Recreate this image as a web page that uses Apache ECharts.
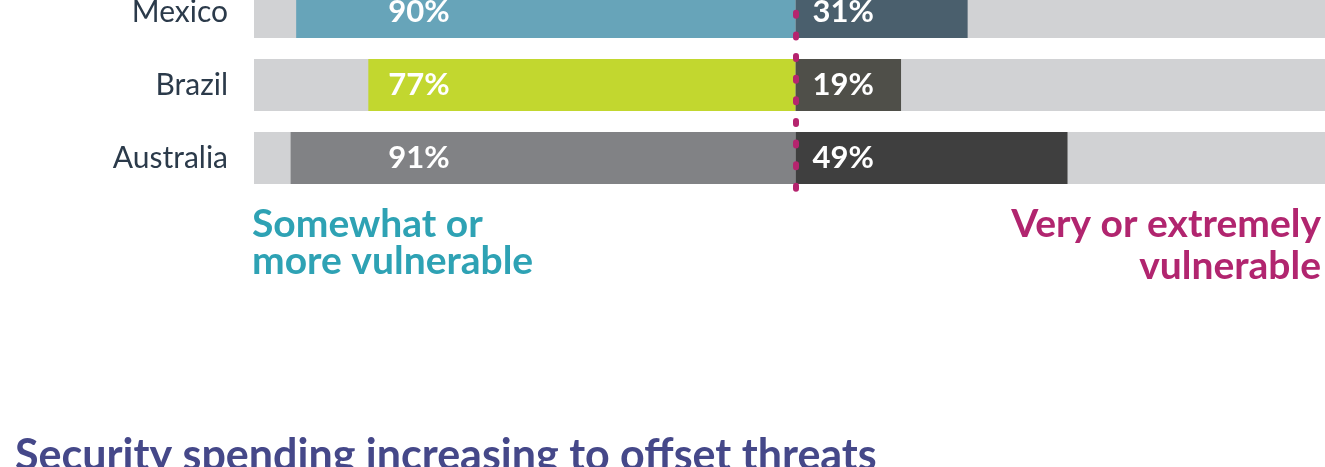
<!DOCTYPE html>
<html>
<head>
<meta charset="utf-8">
<script src="https://cdn.jsdelivr.net/npm/echarts@6/dist/echarts.min.js"></script>
<style>
  html, body { margin: 0; padding: 0; background: #fff; }
  #chart { width: 1325px; height: 467px; }
</style>
</head>
<body>
<div id="chart"></div>
<script>
// countries, top to bottom
const countries = ["Mexico", "Brazil", "Australia"];
// share saying somewhat or more vulnerable (left side)
const somewhatVulnerable = [90, 77, 91];
// share saying very or extremely vulnerable (right side)
const veryVulnerable = [31, 19, 49];

const leftColors = ["#67a4b9", "#c2d72f", "#818285"];
const rightColors = ["#4a5f6d", "#4f4f49", "#3f3f3f"];

const chart = echarts.init(document.getElementById("chart"));

const option = {
  animation: false,
  grid: {
    left: 254,
    right: 0,
    top: -24.5,
    height: 219,
    outerBoundsMode: "none",
  },
  xAxis: {
    type: "value",
    min: -97.6,
    max: 95.4,
    show: false,
  },
  yAxis: {
    type: "category",
    data: countries,
    inverse: true,
    axisLine: { show: false },
    axisTick: { show: false },
    splitLine: { show: false },
    axisLabel: {
      margin: 26,
      color: "#2b3a4a",
      fontFamily: "Lato",
      fontWeight: "normal",
      fontSize: 30,
    },
  },
  series: [
    {
      name: "Somewhat or more vulnerable",
      type: "bar",
      barWidth: 52,
      barGap: "-100%",
      showBackground: true,
      backgroundStyle: { color: "#d1d2d4" },
      data: somewhatVulnerable.map((v, i) => ({
        value: -v,
        itemStyle: { color: leftColors[i] },
      })),
      label: {
        show: true,
        position: "insideRight",
        distance: 346,
        color: "#fff",
        fontFamily: "Lato",
        fontWeight: "bold",
        fontSize: 31,
        formatter: (p) => Math.abs(p.value) + "%",
      },
    },
    {
      name: "Very or extremely vulnerable",
      type: "bar",
      barWidth: 52,
      barGap: "-100%",
      z: 3,
      data: veryVulnerable.map((v, i) => ({
        value: v,
        itemStyle: { color: rightColors[i] },
      })),
      label: {
        show: true,
        position: "insideLeft",
        distance: 17,
        color: "#fff",
        fontFamily: "Lato",
        fontWeight: "bold",
        fontSize: 31,
        formatter: (p) => p.value + "%",
      },
      markLine: {
        silent: true,
        z: 10,
        symbol: ["none", "none"],
        label: { show: false },
        lineStyle: {
          color: "#b5246e",
          width: 6,
          type: [3, 18.63],
          cap: "round",
          dashOffset: 6,
        },
        data: [{ xAxis: 0 }],
      },
    },
  ],
  graphic: [
    {
      type: "text",
      left: 252,
      top: 205,
      style: {
        text: "Somewhat or\nmore vulnerable",
        font: "bold 39px Lato",
        fill: "#2ea2b4",
        lineHeight: 37,
      },
    },
    {
      type: "text",
      right: 4,
      top: 205,
      style: {
        text: "Very or extremely",
        font: "bold 39px Lato",
        fill: "#b1256f",
      },
    },
    {
      type: "text",
      right: 4,
      top: 247,
      style: {
        text: "vulnerable",
        font: "bold 39px Lato",
        fill: "#b1256f",
      },
    },
    {
      type: "text",
      left: 15,
      top: 435,
      style: {
        text: "Security spending increasing to offset threats",
        font: "bold 43px Lato",
        fill: "#454889",
      },
    },
  ],
};

chart.setOption(option);
</script>
</body>
</html>
